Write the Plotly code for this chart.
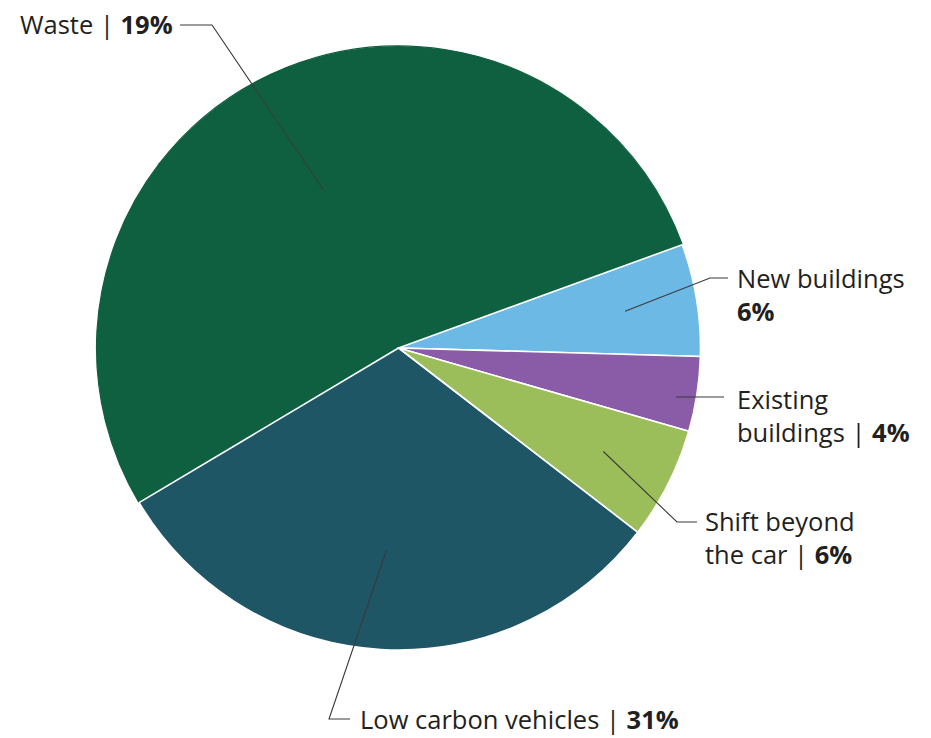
import math
import plotly.graph_objects as go

# Shares (%) as published, clockwise from the green wedge
categories = ["Waste", "New buildings", "Existing buildings", "Shift beyond the car", "Low carbon vehicles"]
shares = [19, 6, 4, 6, 31]
colors = ["#0f6041", "#6cb9e6", "#8a5ba6", "#9bbe5b", "#1e5666"]

# Share not broken out by sector, shown in the waste colour
other_share = 100 - sum(shares)

# Figure geometry (pixels)
W, H = 931, 738
CX, CY, R = 398.5, 348.0, 302.0
START_DEG = 20.0  # math angle where "New buildings" begins

green_share = shares[0] + other_share
rotation = 90 - START_DEG - 360 * green_share / 100

values = [shares[0], other_share] + shares[1:]
slice_colors = [colors[0], colors[0]] + colors[1:]
# Green wedges are outlined in their own colour so they read as one block;
# the coloured sectors drawn afterwards get white separators.
line_colors = [colors[0], colors[0]] + ["white"] * (len(shares) - 1)
line_widths = [1.2, 1.2] + [1.6] * (len(shares) - 1)

fig = go.Figure(go.Pie(
    labels=[categories[0], "Other"] + categories[1:],
    values=values,
    sort=False,
    direction="clockwise",
    rotation=rotation,
    textinfo="none",
    hoverinfo="skip",
    showlegend=False,
    marker=dict(colors=slice_colors, line=dict(color=line_colors, width=line_widths)),
    domain=dict(x=[(CX - R) / W, (CX + R) / W], y=[1 - (CY + R) / H, 1 - (CY - R) / H]),
))


def px(x):
    return x / W


def py(y):
    return 1 - y / H


# Mid-angle (math degrees) of each labelled wedge
mid = {}
a = START_DEG
for name, s in zip(categories[1:], shares[1:]):
    span = 360 * s / 100
    mid[name] = a - span / 2
    a -= span
mid["Waste"] = START_DEG + 180 * green_share / 100


def anchor(name, frac):
    ang = math.radians(mid[name])
    return CX + frac * R * math.cos(ang), CY - frac * R * math.sin(ang)


# Leader lines: anchor inside wedge -> elbow points near the label
leaders = {
    "Waste": (0.58, [(212, 25), (180, 25)]),
    "New buildings": (0.76, [(710, 278), (728, 278)]),
    "Existing buildings": (0.93, [(724, 397)]),
    "Shift beyond the car": (0.76, [(677, 522), (697, 522)]),
    "Low carbon vehicles": (0.67, [(329, 719), (350, 719)]),
}

shapes = []
for name, (frac, pts) in leaders.items():
    x0, y0 = anchor(name, frac)
    if name == "Existing buildings":
        y0 = pts[0][1]
    path = "M {} {}".format(px(x0), py(y0))
    for (x, y) in pts:
        path += " L {} {}".format(px(x), py(y))
    shapes.append(dict(type="path", xref="paper", yref="paper", path=path,
                       line=dict(color="#3a3a3a", width=1.1)))

label_text = {
    "Waste": "Waste | <b>{}%</b>".format(shares[0]),
    "New buildings": "New buildings<br><b>{}%</b>".format(shares[1]),
    "Existing buildings": "Existing<br>buildings | <b>{}%</b>".format(shares[2]),
    "Shift beyond the car": "Shift beyond<br>the car | <b>{}%</b>".format(shares[3]),
    "Low carbon vehicles": "Low carbon vehicles | <b>{}%</b>".format(shares[4]),
}
label_pos = {
    "Waste": (18, 24),
    "New buildings": (735, 294),
    "Existing buildings": (735, 415),
    "Shift beyond the car": (703, 537),
    "Low carbon vehicles": (358, 719),
}

annotations = []
for name, (x, y) in label_pos.items():
    annotations.append(dict(
        text=label_text[name], x=px(x), y=py(y), xref="paper", yref="paper",
        xanchor="left", yanchor="middle", align="left", showarrow=False,
        font=dict(family="Open Sans", size=25.5, color="#231f20"),
    ))

fig.update_layout(
    width=W, height=H,
    margin=dict(l=0, r=0, t=0, b=0),
    paper_bgcolor="white", plot_bgcolor="white",
    shapes=shapes, annotations=annotations,
)

fig.write_html("out.html")
